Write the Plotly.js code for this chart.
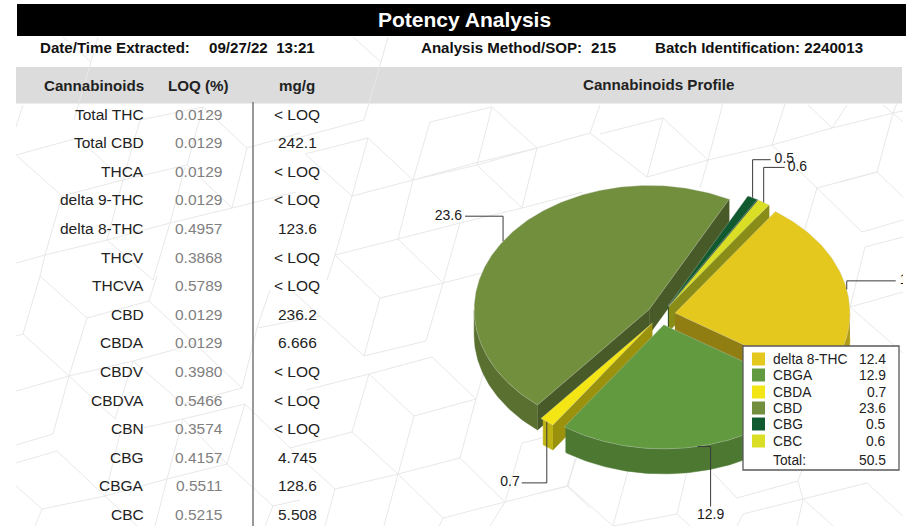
<!DOCTYPE html>
<html><head><meta charset="utf-8">
<script src="https://cdn.plot.ly/plotly-3.0.1.min.js"></script>
<style>html,body{margin:0;padding:0;background:#fff}#c{width:913px;height:526px}</style>
</head><body><div id="c"></div>
<script>
// ---- table data ----
const cannabinoids = ["Total THC","Total CBD","THCA","delta 9-THC","delta 8-THC","THCV","THCVA","CBD","CBDA","CBDV","CBDVA","CBN","CBG","CBGA","CBC"];
const loqPct = ["0.0129","0.0129","0.0129","0.0129","0.4957","0.3868","0.5789","0.0129","0.0129","0.3980","0.5466","0.3574","0.4157","0.5511","0.5215"];
const mgPerG = ["< LOQ","242.1","< LOQ","< LOQ","123.6","< LOQ","< LOQ","236.2","6.666","< LOQ","< LOQ","< LOQ","4.745","128.6","5.508"];
// ---- pie data ----
const pieLabels = ["delta 8-THC","CBGA","CBDA","CBD","CBG","CBC"];
const pieValues = [12.4,12.9,0.7,23.6,0.5,0.6];
const pieColors = ["#e4c81e","#629a40","#f4e615","#728f3e","#115a30","#dade25"];
const totalLabel = "50.5";
// ---- decorative background: hex pattern segments ----
const bgSegments = [
[353,37,381,62],[381,62,388,37],[381,62,364,120],[364,120,290,140],[430,122,492,107],[492,107,537,148],[537,148,590,133],[430,122,413,180],[492,107,477,165],[477,165,537,148],[477,165,522,208],[413,180,477,165],[413,180,368,138],[368,138,305,154],[413,180,352,196],[352,196,368,138],[413,180,398,239],[398,239,460,223],[460,223,522,208],[460,223,443,283],[398,239,335,255],[398,239,443,283],[352,196,335,255],[335,255,327,280],[305,154,352,196],[537,148,522,208],[522,208,583,192],
[364,356,426,341],[426,341,443,283],[443,283,380,298],[380,298,364,356],[364,356,320,316],[380,298,335,255],[443,283,505,267],[369,374,432,357],[432,357,476,399],[369,374,414,416],[414,416,476,399],[476,399,460,458],[414,416,398,474],[369,374,352,432],[352,432,398,474],[398,474,460,458],[460,458,505,502],[398,474,443,518],[398,474,382,533],[352,432,290,448],[335,489,398,474],[335,489,325,526],[335,489,290,448],[505,502,567,486],[505,502,522,443],[505,502,490,526],[443,518,505,502],[443,518,436,533],[567,486,590,508],[567,486,577,456],[522,443,575,430],[476,399,490,350],[369,374,306,390],[320,316,290,289],
[540,493,568,486],[568,486,575,459],[568,486,613,526],[613,526,628,471],[677,514,687,471],[613,526,677,514],[677,514,690,526],[713,473,737,498],[737,498,798,481],[798,481,802,470],[743,514,803,499],[803,499,867,483],[867,483,903,516],[743,514,737,526],[803,499,798,481],[803,499,833,526],[803,499,797,526],
[893,113,877,172],[840,182,877,172],[877,172,903,197],[832,128,893,113],[883,105,903,122],[893,113,897,103],[893,113,903,111],[817,188,862,232],[862,232,903,220],[865,247,903,237],[865,247,850,307],[850,307,903,292],[850,307,903,353],
[663,118,708,160],[600,134,663,118],[708,160,700,188],[723,103,708,160],[708,160,772,145],[772,145,817,188],[772,145,785,104],[817,188,877,172],[817,188,803,235],[832,128,847,105],[808,105,832,128],[772,145,832,128],[590,133,600,105],[590,133,647,177],[647,177,708,160],[663,118,647,177],[420,178,475,163],[475,163,537,148],
[16,127,23,105],[16,155,78,138],[78,138,123,180],[123,180,187,165],[123,180,107,240],[62,196,123,180],[62,196,16,155],[62,196,45,255],[45,255,16,263],[45,255,40,276],[107,240,170,223],[107,240,45,255],[107,240,153,280],[170,223,185,167],[170,223,232,208],[170,223,153,280],[187,165,232,208],[203,107,187,165],[140,120,203,107],[203,107,247,148],[247,148,232,208],[140,120,123,180],[247,148,300,133],[232,208,296,192],[63,37,91,62],[91,62,98,37],[91,62,74,120],
[40,276,23,334],[23,334,69,376],[23,334,16,336],[69,376,87,318],[87,318,149,301],[87,318,40,276],[149,301,157,276],[149,301,195,344],[195,344,133,361],[133,361,69,376],[69,376,16,391],[69,376,115,419],[133,361,115,419],[195,344,242,388],[242,388,257,328],[257,328,320,316],[257,328,270,290],[242,388,183,404],[183,404,133,361],[245,404,183,419],[245,404,227,464],[183,419,167,479],[227,464,273,506],[167,479,227,464],[183,419,227,464],[167,479,105,496],[105,496,120,433],[120,433,183,419],[105,496,137,526],[57,451,105,496],[57,451,16,463],[53,434,69,376],[53,434,16,445],[105,496,42,509],[42,509,35,526],[42,509,16,486],[273,506,300,500],[273,506,265,526],[167,479,155,526],[245,404,290,448]
];

// ---- pie geometry (styling) ----
const CX=661, CY=315, RX=175, RY=124, EXPLODE=14.2, DEPTH=25, START=35;
const paintOrder=[3,4,5,0,2,1];
const leaderBends=[[[0,-8.6],[49,-8.6]],[[13,0],[13,60]],[[0,61],[-25,61]],[[0,-25],[-38,-25]],[[0,-38],[18,-38]],[[0,-35],[21,-35]]];
const labelPos=["middle right","bottom center","middle left","middle left","middle right","middle right"];
const labelGap=[4,2,2,3,4,3];
const rad=d=>d*Math.PI/180;
function shade(hex,f){const n=parseInt(hex.slice(1),16);const c=[n>>16,(n>>8)&255,n&255].map(v=>Math.round(v*f));return `rgb(${c})`;}
const total=pieValues.reduce((a,b)=>a+b,0);
let acc=START;
const slices=pieValues.map((v,i)=>{const a0=acc,a1=acc+v/total*360;acc=a1;const m=(a0+a1)/2;
  return {i,a0,a1,m,cx:CX+EXPLODE*Math.sin(rad(m)),cy:CY-EXPLODE*(RY/RX)*Math.cos(rad(m))};});
const P=(s,t)=>[s.cx+RX*Math.sin(rad(t)),s.cy-RY*Math.cos(rad(t))];
function poly(pts,fill,line){return {type:'scatter',mode:'lines',x:pts.map(p=>p[0]),y:pts.map(p=>p[1]),fill:'toself',fillcolor:fill,
  line:{color:line||fill,width:line?0.6:0.5},hoverinfo:'skip',showlegend:false};}
const traces=[];
paintOrder.forEach(idx=>{const s=slices[idx],col=pieColors[idx];
  const radial=t=>{const e=P(s,t);traces.push(poly([[s.cx,s.cy],e,[e[0],e[1]+DEPTH],[s.cx,s.cy+DEPTH]],shade(col,0.63)));};
  if(Math.sin(rad(s.a0))<0) radial(s.a0);
  if(Math.sin(rad(s.a1))>0) radial(s.a1);
  // outer rim: only front part
  const rim=[];for(let t=s.a0;t<=s.a1+1e-6;t+=Math.min(1,(s.a1-s.a0)/4)){if(Math.cos(rad(t))<=0.001)rim.push(P(s,t));}
  if(rim.length>1){const low=rim.map(p=>[p[0],p[1]+DEPTH]).reverse();traces.push(poly(rim.concat(low),shade(col,0.78)));}
  const top=[[s.cx,s.cy]];for(let t=s.a0;t<s.a1;t+=Math.min(1,(s.a1-s.a0)/4))top.push(P(s,t));top.push(P(s,s.a1));top.push([s.cx,s.cy]);
  traces.push(poly(top,col,'rgba(205,205,205,0.55)'));
});
// leaders + value labels
slices.forEach(s=>{const r=P(s,s.m);const pts=[r].concat(leaderBends[s.i].map(b=>[r[0]+b[0],r[1]+b[1]]));
  traces.push({type:'scatter',mode:'lines',x:pts.map(p=>p[0]),y:pts.map(p=>p[1]),line:{color:'#3a3a3a',width:1},hoverinfo:'skip',showlegend:false});
  const e=pts[pts.length-1],g=labelGap[s.i];
  const off={"middle right":[g,0],"middle left":[-g,0],"bottom center":[0,g]}[labelPos[s.i]];
  traces.push({type:'scatter',mode:'text',x:[e[0]+off[0]],y:[e[1]+off[1]],text:[pieValues[s.i].toFixed(1)],textposition:labelPos[s.i],
    textfont:{family:'Liberation Sans',size:14,color:'#1a1a1a'},cliponaxis:true,hoverinfo:'skip',showlegend:false});
});

// ---- layout ----
const FONT='Liberation Sans';
const shapes=[];
bgSegments.forEach(s=>shapes.push({type:'line',layer:'below',xref:'x',yref:'y',x0:s[0],y0:s[1],x1:s[2],y1:s[3],line:{color:'#e8e8e8',width:1}}));
const pxX=x=>(x-16)/(903-16);
shapes.push({type:'rect',layer:'below',xref:'paper',yref:'y',x0:pxX(17),x1:pxX(906),y0:4,y1:36,fillcolor:'#000',line:{width:0}});
shapes.push({type:'rect',layer:'below',xref:'paper',yref:'y',x0:pxX(16),x1:pxX(902),y0:67,y1:103.5,fillcolor:'#dcdcdc',line:{width:0}});
shapes.push({type:'line',layer:'below',xref:'x',yref:'y',x0:253,x1:253,y0:102,y1:526,line:{color:'#6e6e6e',width:1.4}});
// legend box
shapes.push({type:'rect',layer:'above',xref:'x',yref:'y',x0:743,x1:899,y0:346,y1:470,fillcolor:'#fff',line:{color:'#5a5a5a',width:1.3}});
const anns=[];
function T(text,x,y,size,color,anchor,bold){anns.push({text:bold?`<b>${text}</b>`:text,x,y,xref:'x',yref:'y',showarrow:false,xanchor:anchor,yanchor:'middle',
  borderpad:0,borderwidth:0,font:{family:FONT,size,color}});}
T('Potency Analysis',464.5,19.5,21,'#fff','center',true);
T('Date/Time Extracted:',40,47.5,15.1,'#111','left',true);
T('09/27/22&nbsp;&nbsp;13:21',209,47.5,15.1,'#111','left',true);
T('Analysis Method/SOP:',421,47.5,15.1,'#111','left',true);
T('215',591,47.5,15.1,'#111','left',true);
T('Batch Identification: 2240013',654.5,47.5,15.1,'#111','left',true);
T('Cannabinoids',144,85.5,15.15,'#222','right',true);
T('LOQ (%)',198.5,85.5,15.15,'#222','center',true);
T('mg/g',297,85.5,15.15,'#222','center',true);
T('Cannabinoids Profile',658.5,84,15.15,'#222','center',true);
cannabinoids.forEach((n,i)=>{const y=114+i*28.6;
  T(n,144,y,15.5,'#222','right');T(loqPct[i],198.5,y,15.5,'#808080','center');T(mgPerG[i],297,y,15.5,'#222','center');});
const legY=[359,375,392,408,424,441];
pieLabels.forEach((n,i)=>{const y=legY[i];
  shapes.push({type:'rect',layer:'above',xref:'x',yref:'y',x0:752,x1:765,y0:y-6.5,y1:y+6.5,fillcolor:pieColors[i],line:{width:0}});
  T(n,773,y,13.8,'#222','left');T(pieValues[i].toFixed(1),886,y,13.8,'#222','right');});
T('Total:',773,460,13.8,'#222','left');T(totalLabel,886,460,13.8,'#222','right');

Plotly.newPlot('c',traces,{
  width:913,height:526,paper_bgcolor:'#fff',plot_bgcolor:'#fff',
  margin:{l:16,r:10,t:0,b:0,pad:0},showlegend:false,
  xaxis:{range:[16,903],visible:false,fixedrange:true},
  yaxis:{range:[526,0],visible:false,fixedrange:true},
  shapes,annotations:anns,hovermode:false
},{displayModeBar:false,staticPlot:true});
</script></body></html>
